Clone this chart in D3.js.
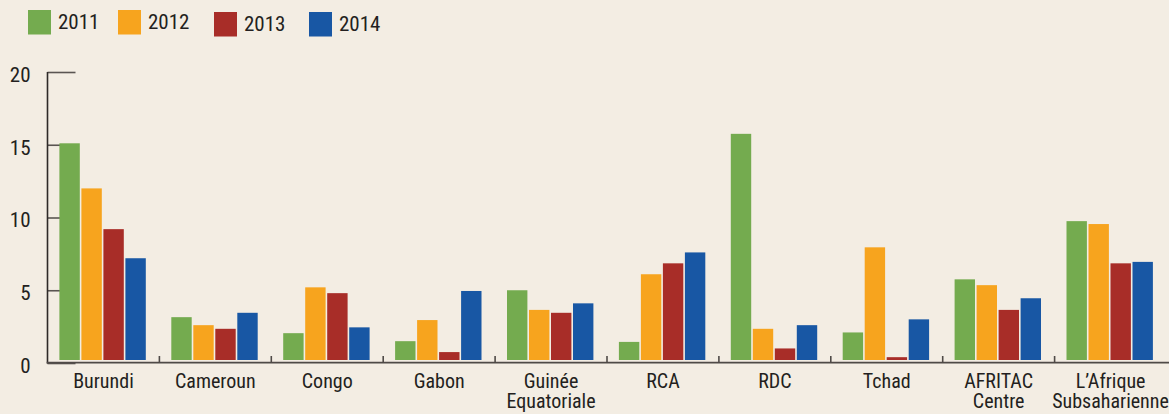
<!DOCTYPE html>
<html><head><meta charset="utf-8">
<script src="https://cdn.jsdelivr.net/npm/d3@7"></script>
<style>
html,body{margin:0;padding:0;background:#f3ede3;}
svg{display:block;}
text{font-family:"Liberation Sans Narrow","Arial Narrow","Roboto Condensed","Liberation Sans",sans-serif;fill:#231f20;}
</style></head>
<body><svg id="c" width="1169" height="414"></svg>
<script>
const categories = [["Burundi"],["Cameroun"],["Congo"],["Gabon"],["Guinée","Equatoriale"],["RCA"],["RDC"],["Tchad"],["AFRITAC","Centre"],["L’Afrique","Subsaharienne"]];
const years = ["2011","2012","2013","2014"];
const v2011 = [15.1, 3.15, 2.05, 1.5, 5.0, 1.45, 15.75, 2.1, 5.75, 9.75];
const v2012 = [12.0, 2.6, 5.2, 2.95, 3.65, 6.1, 2.35, 7.95, 5.35, 9.55];
const v2013 = [9.2, 2.35, 4.8, 0.75, 3.45, 6.85, 1.0, 0.4, 3.65, 6.85];
const v2014 = [7.2, 3.45, 2.45, 4.95, 4.1, 7.6, 2.6, 3.0, 4.45, 6.95];
const series = [v2011, v2012, v2013, v2014];
const colors = ["#74ab4f","#f7a41e","#a82d28","#1857a4"];
const yTicks = [0,5,10,15,20];

const svg = d3.select("#c");
const names = categories.map(c => c.join(" "));
const x0 = d3.scaleBand().domain(names).range([47.5, 1166.5]).padding(0);
const x1 = d3.scaleBand().domain(years).range([11.9, 99.9]).padding(0);
const y = d3.scaleLinear().domain([0,20]).range([363,72]);

// y axis ticks
const yAxis = d3.axisLeft(y).tickValues(yTicks).tickSize(-28).tickPadding(17).tickFormat(d3.format("d"));
const ga = svg.append("g").attr("transform","translate(47.5,0)").call(yAxis);
ga.select(".domain").remove();
ga.selectAll(".tick line").attr("stroke","#5a5552").attr("stroke-width",1.6);
ga.selectAll(".tick text").attr("font-size",21).attr("dy","0.45em").style("fill","#231f20");
ga.attr("font-family", null);

// bars
names.forEach((n,i) => {
  const g = svg.append("g").attr("transform",`translate(${x0(n)},0)`);
  years.forEach((yr,j) => {
    const v = series[j][i];
    g.append("rect")
      .attr("x", x1(yr))
      .attr("y", y(v))
      .attr("width", x1.bandwidth()-1.6)
      .attr("height", Math.max(0, y(0)-3 - y(v)))
      .attr("fill", colors[j]);
  });
});

// axis lines
svg.append("line").attr("x1",47.5).attr("x2",47.5).attr("y1",72).attr("y2",363.5).attr("stroke","#2e2a28").attr("stroke-width",1.6);
svg.append("line").attr("x1",46.7).attr("x2",1169).attr("y1",362.7).attr("y2",362.7).attr("stroke","#4f4a47").attr("stroke-width",1.8);
// separators
names.slice(1).forEach(n => {
  svg.append("line").attr("x1",x0(n)).attr("x2",x0(n)).attr("y1",356).attr("y2",363).attr("stroke","#4f4a47").attr("stroke-width",1.6);
});

// category labels
categories.forEach((c,i) => {
  const cx = x0(names[i]) + x0.bandwidth()/2;
  c.forEach((line,k) => svg.append("text").attr("x",cx).attr("y",388+20*k)
    .attr("text-anchor","middle").attr("font-size",20).text(line));
});

// legend
const legX = [28,118,214,309];
const legY = [10,10,12,12];
years.forEach((yr,j) => {
  svg.append("rect").attr("x",legX[j]).attr("y",legY[j]).attr("width",23).attr("height",24.5).attr("fill",colors[j]);
  svg.append("text").attr("x",legX[j]+30).attr("y",legY[j]+18.5).attr("font-size",21).text(yr);
});
</script></body></html>
